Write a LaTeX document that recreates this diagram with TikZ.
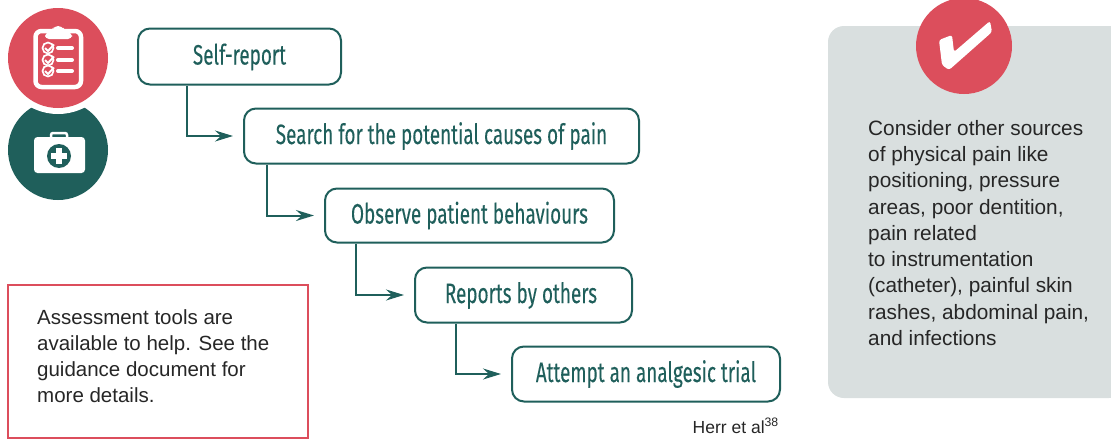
\documentclass[tikz,border=0pt]{standalone}
\usepackage{fontspec}
\setmainfont{Liberation Sans}
\newfontfamily\condfont[FakeStretch=0.675,FakeBold=0.1]{Fira Sans}
\usetikzlibrary{arrows.meta,calc}
\definecolor{tealc}{HTML}{1F5F5B}
\definecolor{redc}{HTML}{DC4E5C}
\definecolor{grayc}{HTML}{D9DFDF}
\tikzset{
 flowbox/.style={draw=tealc,line width=2pt,rounded corners=12pt,fill=white,inner sep=0pt,text=tealc,text height=16pt,text depth=0pt,font=\condfont\fontsize{28}{30}\selectfont,anchor=north west},
 flowarrow/.style={draw=tealc,line width=2pt,-{Stealth[length=18pt,width=11pt,inset=6pt]},shorten >=10pt},
 bodytext/.style={inner sep=0pt,anchor=north west,align=left,text=black!85},
}
\begin{document}
\begin{tikzpicture}[x=1pt,y=-1pt]
\useasboundingbox (0,0) rectangle (1111,439);
% gray panel
\fill[grayc,rounded corners=16pt] (828,26) rectangle (1125,398);
\node[circle,fill=redc,minimum size=96pt,inner sep=0pt] (chk) at (964,46) {};
\fill[white,rounded corners=2.5pt] (939,40) -- (952,35) -- (954,52) -- (990,21) -- (992,32) -- (949,70) -- (942,65) -- cycle;
% icons
\node[circle,fill=tealc,minimum size=100pt,inner sep=0pt] (kit) at (58,150) {};
\node[circle,fill=white,minimum size=116pt,inner sep=0pt] (ring) at (58,56) {};
\node[circle,fill=redc,minimum size=100pt,inner sep=0pt] (clip) at (58,58) {};
% clipboard
\draw[white,line width=4.5pt,rounded corners=6pt] (35.5,31) rectangle (81,87);
\fill[white,rounded corners=4pt] (45,39) -- (45,33) -- (52,31) -- (54,26) -- (62,26) -- (65,31) -- (72,33) -- (72,39) -- cycle;
\foreach \yy in {48,60,71}{
 \draw[white,line width=1.7pt,fill=redc] (48,\yy) circle (5.5pt);
 \draw[white,line width=2pt] (45,\yy) -- (48,{\yy+3}) -- (54,{\yy-3.5});
 \draw[white,line width=4pt,line cap=round] (58,\yy) -- (72,\yy);
}
% kit
\fill[white,rounded corners=3.5pt] (34,137) rectangle (85,173);
\draw[white,line width=2.5pt,rounded corners=2pt] (51,138) -- (51,133) -- (67,133) -- (67,138);
\fill[tealc] (59,156) circle (12pt);
\fill[white] (56,148) rectangle (62,164);
\fill[white] (51,153) rectangle (67,159);
% flow
\node[flowbox,minimum width=203pt,minimum height=56pt] (a) at (137,27.5) {Self-report};
\node[flowbox,minimum width=395pt,minimum height=55pt] (b) at (243,107.5) {Search for the potential causes of pain};
\node[flowbox,minimum width=289pt,minimum height=54pt] (c) at (324,187.5) {Observe patient behaviours};
\node[flowbox,minimum width=217pt,minimum height=55pt] (d) at (414,266.5) {\hspace{-5pt}Reports by others};
\node[flowbox,minimum width=268pt,minimum height=55pt] (e) at (511,345.5) {Attempt an analgesic trial};
\draw[flowarrow] ([xshift=50pt]a.south west) |- (b.west);
\draw[flowarrow] ([xshift=24pt]b.south west) |- (c.west);
\draw[flowarrow] ([xshift=32pt]c.south west) |- (d.west);
\draw[flowarrow] ([xshift=42pt]d.south west) |- (e.west);
% texts
\node[draw=redc,line width=2pt,minimum width=300.5pt,minimum height=152.5pt,inner sep=0pt,anchor=north west] (note) at (6.8,284) {};
\node[bodytext,font=\fontsize{20.5}{26}\selectfont] (notetext) at (37,309.5) {Assessment tools are\\available to help. See the\\guidance document for\\more details.};
\node[bodytext,font=\fontsize{20.8}{26.25}\selectfont] (side) at (868,120) {Consider other sources\\of physical pain like\\positioning, pressure\\areas, poor dentition,\\pain related\\to instrumentation\\(catheter), painful skin\\rashes, abdominal pain,\\and infections};
\node[inner sep=0pt,anchor=north east,text=black!85,font=\fontsize{17.5}{18}\selectfont] (cite) at (779,418) {Herr et al\textsuperscript{38}};
\end{tikzpicture}
\end{document}
